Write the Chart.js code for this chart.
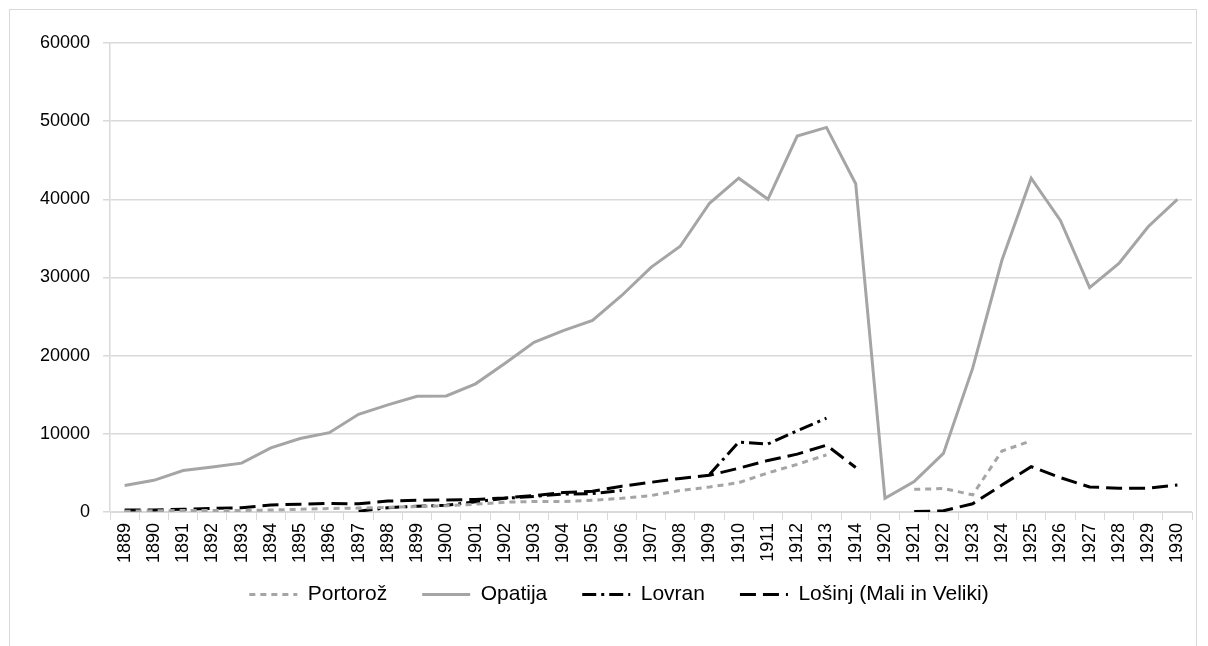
<!DOCTYPE html>
<html>
<head>
<meta charset="utf-8">
<script src="https://cdn.jsdelivr.net/npm/chart.js@4.4.1/dist/chart.umd.min.js"></script>
<style>
  html, body { margin: 0; padding: 0; background: #fff; }
  #wrap { position: relative; width: 1208px; height: 646px; }
  #frame { position: absolute; left: 9px; top: 9px; width: 1188px; height: 640px; border: 1px solid #d9d9d9; box-sizing: border-box; }
  #chart { position: absolute; left: 0; top: 0; }
</style>
</head>
<body>
<div id="wrap">
  <div id="frame"></div>
  <canvas id="chart" width="1208" height="646"></canvas>
</div>
<script>
// leta (1915-1919 manjkajo)
const years = ['1889','1890','1891','1892','1893','1894','1895','1896','1897','1898',
    '1899','1900','1901','1902','1903','1904','1905','1906','1907','1908',
    '1909','1910','1911','1912','1913','1914','1920','1921','1922','1923',
    '1924','1925','1926','1927','1928','1929','1930'];

// vrednosti, odčitane s slike
const portoroz = [100, 150, 200, 200, 200, 250, 350, 450, 500, 600,
    700, 800, 1000, 1250, 1350, 1350, 1500, 1750, 2100, 2750,
    3200, 3750, 5000, 6100, 7300, null, null, 2900, 3000, 2200,
    7800, 9100, null, null, null, null, null];

const opatija = [3400, 4050, 5300, 5750, 6250, 8200, 9400, 10150, 12500, 13700,
    14800, 14850, 16400, 19000, 21700, 23200, 24500, 27700, 31300, 34000,
    39500, 42700, 40000, 48100, 49200, 42000, 1750, 3900, 7500, 18400,
    32200, 42700, 37300, 28700, 31800, 36500, 40000];

const lovran = [null, null, null, null, null, null, null, null, 100, 550,
    750, 850, 1300, 1750, 2000, 2300, 2350, 2750, null, null,
    4800, 8950, 8700, 10400, 12000, null, null, null, null, null,
    null, null, null, null, null, null, null];

const losinj = [250, 250, 350, 450, 550, 900, 1000, 1100, 1050, 1400,
    1500, 1550, 1600, 1800, 2100, 2500, 2650, 3300, 3800, 4300,
    4700, 5600, 6600, 7400, 8550, 5700, null, 50, 150, 1050,
    3450, 5800, 4400, 3200, 3050, 3050, 3450];

const yTicks = [0, 10000, 20000, 30000, 40000, 50000, 60000];

const fontFamily = '"Liberation Sans", Arial, sans-serif';
const grey = '#a5a5a5';

function makeSet(label, data, color, dash) {
    return {
        label: label,
        data: data,
        borderColor: color,
        backgroundColor: color,
        borderWidth: 3,
        borderDash: dash,
        pointRadius: 0,
        pointHoverRadius: 0,
        pointStyle: 'line',
        tension: 0,
        spanGaps: false,
        fill: false
    };
}

const datasets = [
    makeSet('Portorož', portoroz, grey, [6, 5]),
    makeSet('Opatija', opatija, grey, []),
    makeSet('Lovran', lovran, '#000', [14, 5, 3, 5]),
    makeSet('Lošinj (Mali in Veliki)', losinj, '#000', [16, 7])
];

// legenda: premik navzgor in rahlo v desno
const legendTweak = {
    id: 'legendTweak',
    afterLayout(chart) {
        const lg = chart.legend;
        const h = lg.bottom - lg.top;
        lg.top = 549;
        lg.bottom = lg.top + h;
        lg.left += 18;
        lg.right += 18;
    }
};

Chart.defaults.font.family = fontFamily;
Chart.defaults.color = '#000';

new Chart(document.getElementById('chart').getContext('2d'), {
    type: 'line',
    data: { labels: years, datasets: datasets },
    plugins: [legendTweak],
    options: {
        responsive: false,
        animation: false,
        layout: { padding: { left: 10, right: 16, top: 43, bottom: 12 } },
        plugins: {
            tooltip: { enabled: false },
            legend: {
                position: 'bottom',
                labels: {
                    usePointStyle: true,
                    pointStyle: 'line',
                    pointStyleWidth: 48,
                    padding: 35,
                    font: { size: 21 },
                    color: '#000',
                    generateLabels(chart) {
                        return chart.data.datasets.map((ds, i) => ({
                            text: ds.label,
                            datasetIndex: i,
                            fillStyle: ds.borderColor,
                            strokeStyle: ds.borderColor,
                            lineWidth: 3,
                            lineDash: ds.borderDash,
                            lineCap: 'butt',
                            pointStyle: 'line',
                            hidden: false,
                            fontColor: '#000'
                        }));
                    }
                }
            }
        },
        scales: {
            x: {
                offset: true,
                grid: {
                    display: true,
                    drawOnChartArea: false,
                    drawTicks: true,
                    tickLength: 8,
                    color: '#d9d9d9',
                    offset: true
                },
                border: { color: '#d9d9d9', width: 1 },
                ticks: {
                    minRotation: 90,
                    maxRotation: 90,
                    autoSkip: false,
                    padding: 3,
                    font: { size: 18 },
                    color: '#000'
                },
                afterFit: function (scale) { scale.height = 56; }
            },
            y: {
                min: 0,
                max: 60000,
                afterBuildTicks: function (scale) {
                    scale.ticks = yTicks.map(v => ({ value: v }));
                },
                grid: {
                    color: '#d9d9d9',
                    lineWidth: 1.5,
                    drawTicks: true,
                    tickLength: 7
                },
                border: { color: '#d9d9d9', width: 1.5 },
                ticks: {
                    padding: 13,
                    font: { size: 18 },
                    color: '#000',
                    callback: v => String(v)
                },
                afterFit: function (scale) { scale.width = 100; }
            }
        }
    }
});
</script>
</body>
</html>
